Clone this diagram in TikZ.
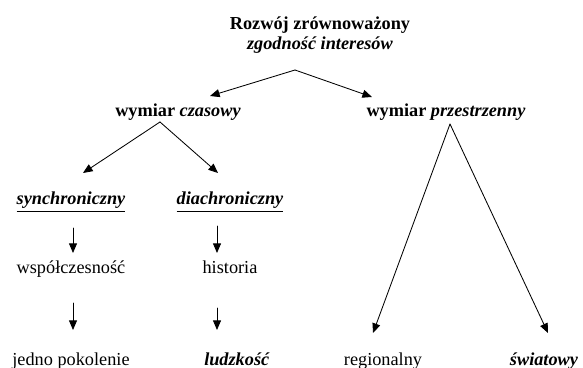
\documentclass[tikz,border=0pt]{standalone}
\usepackage{fontspec}
\setmainfont{Liberation Serif}
\usetikzlibrary{arrows.meta}

\begin{document}
\begin{tikzpicture}[line cap=round,line join=round,
    txt/.style={anchor=base,inner sep=0pt,font=\fontsize{13}{15}\selectfont},
    arr/.style={line width=0.6pt,-{Triangle[length=0.24cm,width=0.2cm]}}]
  \useasboundingbox (0,0) rectangle (14.575,9.175);
  % headings
  \node[txt] (top) at (8.00,8.425) {\textbf{Rozwój zrównoważony}};
  \node[txt] (zgod) at (8.00,7.925) {\textbf{\textit{zgodność interesów}}};
  \node[txt] (czas) at (4.45,6.25) {\textbf{wymiar \textit{czasowy}}};
  \node[txt] (prze) at (11.15,6.25) {\textbf{wymiar \textit{przestrzenny}}};
  % time branch
  \node[txt] (sync) at (1.775,4.05) {\textbf{\textit{\underline{synchroniczny}}}};
  \node[txt] (diach) at (5.75,4.05) {\textbf{\textit{\underline{diachroniczny}}}};
  \node[txt] (wspol) at (1.775,2.35) {współczesność};
  \node[txt] (hist) at (5.75,2.35) {historia};
  \node[txt] (pokol) at (1.775,0.05) {jedno pokolenie};
  \node[txt] (ludz) at (5.925,0.05) {\textbf{\textit{ludzkość}}};
  % space branch
  \node[txt] (reg) at (9.575,0.05) {regionalny};
  \node[txt] (swiat) at (13.60,0.05) {\textbf{\textit{światowy}}};
  % arrow ends
  \coordinate (A) at (7.375,7.425);
  \coordinate (B) at (4.00,6.125);
  \coordinate (C) at (11.25,6.075);
  \draw[arr] (A) -- (5.25,6.775);
  \draw[arr] (A) -- (9.30,6.75);
  \draw[arr] (B) -- (2.075,4.85);
  \draw[arr] (B) -- (5.45,4.85);
  \draw[arr] (1.825,3.475) -- (1.825,2.85);
  \draw[arr] (5.425,3.525) -- (5.425,2.85);
  \draw[arr] (1.825,1.6) -- (1.825,0.925);
  \draw[arr] (5.425,1.475) -- (5.425,0.925);
  \draw[arr] (C) -- (9.325,0.85);
  \draw[arr] (C) -- (13.70,0.85);
\end{tikzpicture}
\end{document}
